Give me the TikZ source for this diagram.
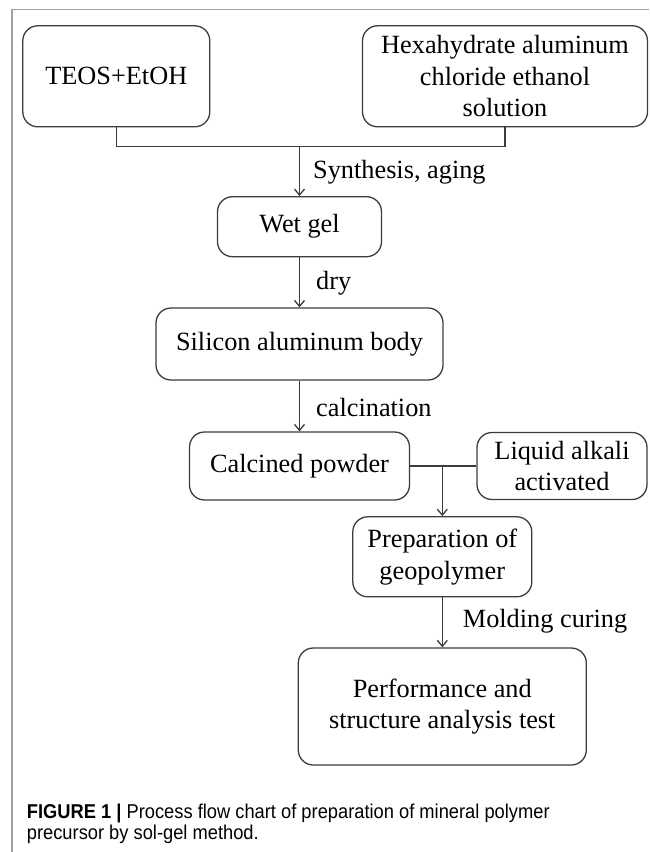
\documentclass[tikz,border=0pt]{standalone}
\usepackage{fontspec}
\setmainfont{Liberation Serif}
\newfontfamily\capfont[FakeStretch=0.915]{Liberation Sans}
\usepackage{tikz}
\usetikzlibrary{
  positioning,
  arrows.meta
}
\definecolor{linegray}{HTML}{3C3C3C}
\definecolor{framegray}{HTML}{A0A0A0}

\begin{document}
\begin{tikzpicture}[
      x=1pt, y=-1pt,
      stepnode/.style={rectangle, rounded corners=15pt, draw=linegray, line width=1.3pt, inner sep=0pt, align=center, font=\fontsize{26.3}{31.6}\selectfont},
      steplabel/.style={anchor=west, inner sep=0pt, font=\fontsize{26.3}{31.6}\selectfont},
      arrow/.style={-{Straight Barb[length=6pt,width=10pt]}, draw=linegray, line width=1.3pt},
      joinline/.style={draw=linegray, line width=1.3pt},
      caption/.style={anchor=base west, inner sep=0pt, font=\capfont\fontsize{20}{20}\selectfont}
    ]
      \useasboundingbox (0,0) rectangle (649,852);
      % Frame
      \draw[framegray, line width=1.6pt] (11.7,852) -- (11.7,9.3) -- (649,9.3);

      % Steps
      \node[stepnode, minimum width=187pt, minimum height=101pt] (teos) at (116.3,76.3) {TEOS+EtOH};
      \node[stepnode, minimum width=285pt, minimum height=101pt] (hexa) at (505,76.3) {Hexahydrate aluminum\\chloride ethanol\\solution};
      \node[stepnode, minimum width=164pt, minimum height=60pt] (wetgel) at (299.5,226.7) {Wet gel};
      \node[stepnode, minimum width=287pt, minimum height=72pt] (silicon) at (299.5,344) {Silicon aluminum body};
      \node[stepnode, minimum width=220pt, minimum height=68pt] (calcined) at (299.5,466) {Calcined powder};
      \node[stepnode, minimum width=170pt, minimum height=67pt] (liquid) at (562,466) {Liquid alkali\\activated};
      \node[stepnode, minimum width=179pt, minimum height=80pt] (prep) at (442.3,556.8) {Preparation of\\geopolymer};
      \node[stepnode, minimum width=288pt, minimum height=117pt] (perf) at (442.3,706.5) {Performance and\\structure analysis test};

      % Joins and arrows
      \coordinate (join1) at (299.5,146.7);
      \coordinate (join2) at (442.3,466);
      \draw[joinline] (teos.south) |- (join1) -| (hexa.south);
      \draw[arrow] (join1) -- (wetgel.north);
      \draw[arrow] (wetgel.south) -- (silicon.north);
      \draw[arrow] (silicon.south) -- (calcined.north);
      \draw[joinline] (calcined.east) -- (liquid.west);
      \draw[arrow] (join2) -- (prep.north);
      \draw[arrow] (prep.south) -- (perf.north);

      % Arrow labels
      \node[steplabel] (lblsyn) at (313,172) {Synthesis, aging};
      \node[steplabel] (lbldry) at (316,283) {dry};
      \node[steplabel] (lblcalc) at (316,407) {calcination};
      \node[steplabel] (lblmold) at (462.7,621) {Molding curing};

      % Caption
      \node[caption] (capline1) at (26.7,818) {{\bfseries FIGURE 1 |} Process flow chart of preparation of mineral polymer};
      \node[caption] (capline2) at (26.7,839) {precursor by sol-gel method.};
    \end{tikzpicture}
\end{document}
